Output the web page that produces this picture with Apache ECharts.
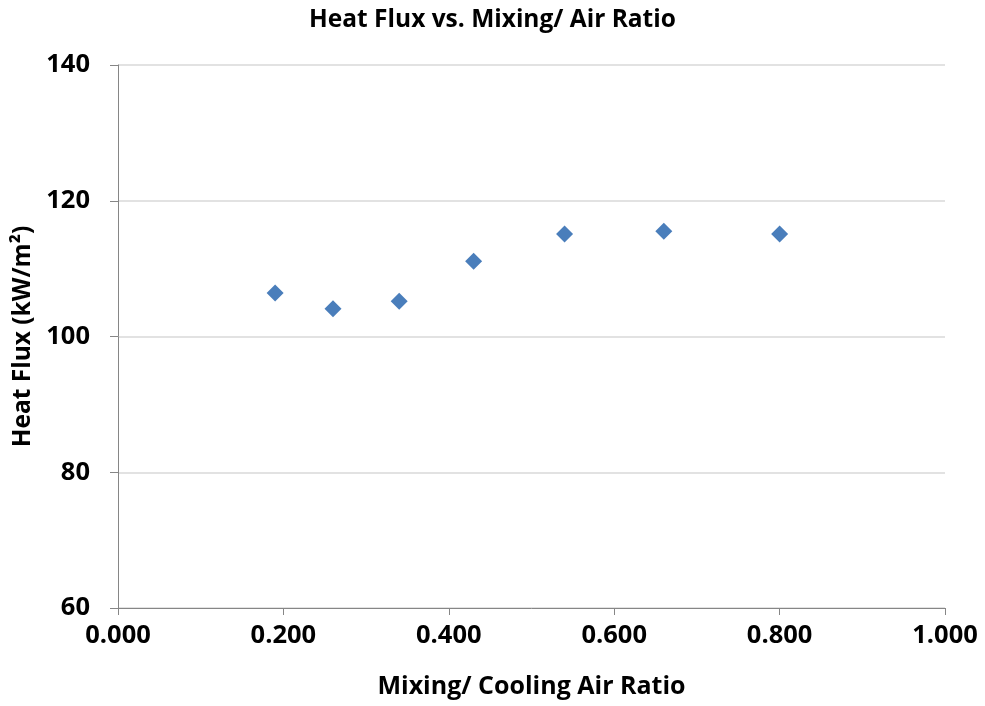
<!DOCTYPE html>
<html>
<head>
<meta charset="utf-8">
<script src="https://cdn.jsdelivr.net/npm/echarts@6/dist/echarts.min.js"></script>
<style>
  html, body { margin: 0; padding: 0; background: #fff; }
  #chart { width: 985px; height: 706px; }
</style>
</head>
<body>
<div id="chart"></div>
<script>
var mixingRatio = [0.19, 0.26, 0.34, 0.43, 0.54, 0.66, 0.80];
var heatFlux = [106.4, 104.1, 105.2, 111.1, 115.1, 115.5, 115.1];

var points = mixingRatio.map(function (x, i) { return [x, heatFlux[i]]; });

var chart = echarts.init(document.getElementById('chart'), null, { renderer: 'canvas' });

var font = '"Open Sans", Lato, sans-serif';

var option = {
  animation: false,
  title: {
    text: 'Heat Flux vs. Mixing/ Air Ratio',
    left: 'center',
    top: 3,
    textStyle: { fontFamily: font, fontSize: 24.5, fontWeight: 'bold', color: '#000' }
  },
  grid: { left: 118, right: 40, top: 65, bottom: 98 },
  xAxis: {
    type: 'value',
    min: 0,
    max: 1,
    interval: 0.2,
    name: 'Mixing/ Cooling Air Ratio',
    nameLocation: 'middle',
    nameGap: 66,
    nameTextStyle: { fontFamily: font, fontSize: 25, fontWeight: 'bold', color: '#000' },
    axisLine: { lineStyle: { color: '#868686', width: 1 } },
    axisTick: { show: true, length: 7, lineStyle: { color: '#868686' } },
    axisLabel: {
      fontFamily: font, fontSize: 25.5, fontWeight: 'bold', color: '#000', margin: 15,
      formatter: function (v) { return v.toFixed(3); }
    },
    splitLine: { show: false }
  },
  yAxis: {
    type: 'value',
    min: 60,
    max: 140,
    interval: 20,
    name: 'Heat Flux (kW/m²)',
    nameLocation: 'middle',
    nameGap: 81,
    nameTextStyle: { fontFamily: font, fontSize: 24.5, fontWeight: 'bold', color: '#000' },
    axisLine: { show: true, lineStyle: { color: '#868686', width: 1 } },
    axisTick: { show: true, length: 8, lineStyle: { color: '#868686' } },
    axisLabel: { fontFamily: font, fontSize: 25.5, fontWeight: 'bold', color: '#000', margin: 28 },
    splitLine: { show: true, lineStyle: { color: '#d9d9d9', width: 1.5 } }
  },
  series: [{
    type: 'scatter',
    data: points,
    symbol: 'diamond',
    symbolSize: 17,
    itemStyle: { color: '#4a7ebb', opacity: 1 }
  }]
};

chart.setOption(option);
window.addEventListener('resize', chart.resize);
</script>
</body>
</html>
